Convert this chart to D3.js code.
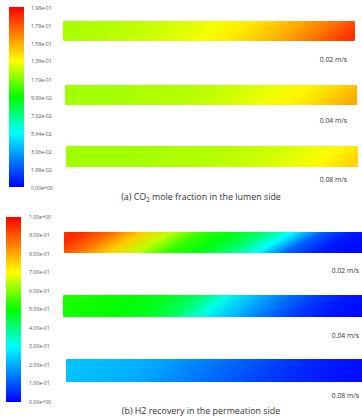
<!DOCTYPE html>
<html><head><meta charset="utf-8">
<script src="https://cdn.jsdelivr.net/npm/d3@7"></script>
<style>body{margin:0;background:#fff}svg{display:block}</style>
</head><body>
<script>
// ---- data ----
const axialStops = [0,0.1,0.2,0.3,0.4,0.5,0.6,0.7,0.8,0.9,1.0];
const velocities = ["0.02 m/s","0.04 m/s","0.08 m/s"];
// (a) CO2 mole fraction in lumen side, max 0.198
const lumenMax = 0.198;
const lumenTickValues = [0,0.0198,0.0396,0.0594,0.0792,0.099,0.119,0.139,0.158,0.178,0.198];
const lumen002 = [0.125,0.126,0.128,0.130,0.133,0.137,0.143,0.151,0.161,0.172,0.186];
const lumen004 = [0.124,0.124,0.125,0.126,0.127,0.129,0.132,0.136,0.141,0.148,0.158];
const lumen008 = [0.124,0.124,0.124,0.125,0.126,0.127,0.129,0.131,0.135,0.140,0.148];
// (b) H2 recovery in permeation side, max 1
const permMax = 1.0;
const permTickValues = [0,0.1,0.2,0.3,0.4,0.5,0.6,0.7,0.8,0.9,1.0];
const perm002 = [0.95,0.87,0.76,0.65,0.54,0.49,0.42,0.30,0.11,0.03,0.01];
const perm004 = [0.52,0.51,0.50,0.48,0.43,0.32,0.22,0.14,0.07,0.03,0.01];
const perm008 = [0.23,0.22,0.21,0.19,0.16,0.13,0.10,0.07,0.045,0.025,0.015];
const captionA = ["(a)  CO","2"," mole fraction in the lumen side"];
const captionB = "(b)  H2 recovery in the permeation side";

// ---- rendering ----
const W=362,H=417;
const svg=d3.select("body").append("svg").attr("width",W).attr("height",H);
const defs=svg.append("defs");
const rainbow=d3.scaleLinear().domain([0,0.3,0.5,0.7,1]).range(["#0000ff","#00ffff","#00ff00","#ffff00","#ff0000"]).clamp(true);
const fmt=v=>{const s=d3.format(".2e")(v);return s.replace(/e([+-])(\d)$/,"e$10$2");};

function panel(cfg){
  const {max,ticks,series,barY,barX0,barX1,labelY,labelX,cb,skew,caption,capY,id}=cfg;
  const norm=d3.scaleLinear().domain([0,max]).range([0,1]);
  const g=defs.append("linearGradient").attr("id",id+"cb").attr("x1",0).attr("y1",1).attr("x2",0).attr("y2",0);
  d3.range(0,1.0001,0.05).forEach(t=>g.append("stop").attr("offset",t).attr("stop-color",rainbow(t)));
  const ys=d3.scaleLinear().domain([0,max]).range([cb.y1,cb.y0]);
  svg.append("rect").attr("x",cb.x).attr("y",ys(max)).attr("width",cb.w).attr("height",ys(0)-ys(max)).attr("fill",`url(#${id}cb)`);
  svg.append("g").selectAll("text").data(ticks).join("text")
    .attr("x",cb.lx).attr("y",d=>ys(d)+cb.loff).attr("dy","0.35em")
    .attr("font-family","Open Sans, Arial, sans-serif").attr("font-size",5.2).attr("fill","#555")
    .text(fmt);
  const ax=d3.scaleLinear().domain([0,1]);
  series.forEach((vals,i)=>{
    const x0=barX0[i],x1=barX1[i],y0=barY[i][0],y1=barY[i][1],cy=(y0+y1)/2;
    ax.range([x0,x1]);
    const gr=defs.append("linearGradient").attr("id",id+"b"+i).attr("gradientUnits","userSpaceOnUse")
      .attr("x1",ax(0)).attr("x2",ax(1)).attr("y1",cy).attr("y2",cy)
      .attr("gradientTransform",`translate(0,${cy}) skewX(${-Math.atan(skew[i])*180/Math.PI}) translate(0,${-cy})`);
    vals.forEach((v,k)=>gr.append("stop").attr("offset",axialStops[k]).attr("stop-color",rainbow(norm(v))));
    svg.append("rect").attr("x",x0).attr("y",y0).attr("width",x1-x0).attr("height",y1-y0)
      .attr("rx",1).attr("fill",`url(#${id}b${i})`);
    svg.append("text").attr("x",labelX).attr("y",labelY[i]).attr("dy","0.35em").attr("text-anchor","end")
      .attr("font-family","Open Sans, Arial, sans-serif").attr("font-size",6.8).attr("fill","#333").text(velocities[i]);
  });
  const t=svg.append("text").attr("x",201).attr("y",capY).attr("text-anchor","middle")
    .attr("font-family","Open Sans, Arial, sans-serif").attr("font-size",8.9).attr("fill","#333");
  if(Array.isArray(caption)){
    t.append("tspan").text(caption[0]);
    t.append("tspan").attr("font-size",6.2).attr("dy",2).text(caption[1]);
    t.append("tspan").attr("dy",-2).text(caption[2]);
  } else t.text(caption);
}

panel({id:"a",max:lumenMax,ticks:lumenTickValues,series:[lumen002,lumen004,lumen008],
  barX0:[63,65,66],barX1:[355,357,358],barY:[[21,41],[85,105],[146,167]],
  labelY:[60,121,180],labelX:347,cb:{x:9,w:15,y0:7,y1:187,lx:31,loff:1},
  skew:[1.2,1.2,1.2],caption:captionA,capY:200});
panel({id:"b",max:permMax,ticks:permTickValues,series:[perm002,perm004,perm008],
  barX0:[64,63,66],barX1:[364,364,364],barY:[[232,253],[295,317],[359,382]],
  labelY:[271,336,396],labelX:359,cb:{x:6,w:15,y0:217,y1:402,lx:29,loff:0},
  skew:[1.8,1.2,1.0],caption:captionB,capY:414});
</script>
</body></html>
